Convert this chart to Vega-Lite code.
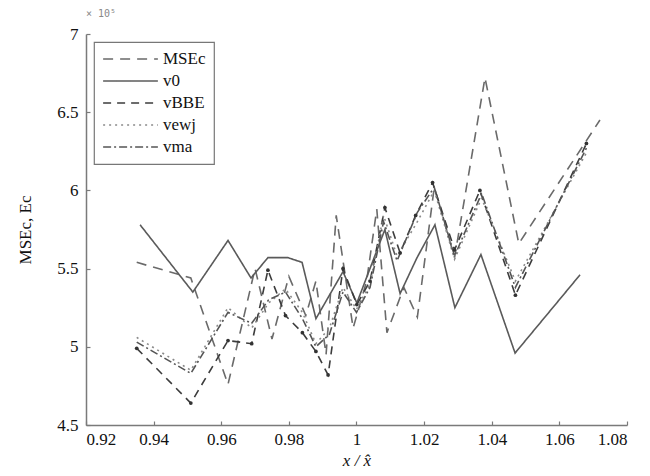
{
  "$schema": "https://vega.github.io/schema/vega-lite/v6.json",
  "width": 541,
  "height": 391,
  "autosize": {"type": "none"},
  "padding": {"left": 86, "top": 34, "right": 23, "bottom": 51},
  "background": "white",
  "title": {"text": "× 10⁵", "anchor": "start", "frame": "group", "font": "DejaVu Sans Mono", "fontSize": 10, "color": "#888888", "fontWeight": "normal", "offset": 6},
  "config": {
    "font": "Liberation Serif",
    "view": {"stroke": null},
    "axis": {"domainColor": "#7a7a7a", "tickColor": "#7a7a7a", "grid": false, "labelFont": "Liberation Serif", "labelFontSize": 17, "labelColor": "#111111", "titleFont": "Liberation Serif", "titleFontSize": 17, "titleFontWeight": "normal", "titleColor": "#111111", "tickSize": -4, "domainWidth": 1.5, "tickWidth": 1.2},
    "legend": {"orient": "top-left", "offset": 8, "strokeColor": "#777777", "strokeWidth": 1.2, "padding": 8, "symbolType": "stroke", "symbolSize": 3000, "symbolStrokeWidth": 1.6, "labelFont": "Liberation Serif", "labelFontSize": 17, "labelColor": "#111111", "rowPadding": 4, "clipHeight": 18, "fillColor": "white"}
  },
  "data": {"values": [
    {"s": "MSEc", "x": 0.935, "y": 5.54}, {"s": "MSEc", "x": 0.951, "y": 5.44}, {"s": "MSEc", "x": 0.962, "y": 4.76}, {"s": "MSEc", "x": 0.970, "y": 5.50}, {"s": "MSEc", "x": 0.975, "y": 5.05}, {"s": "MSEc", "x": 0.980, "y": 5.45}, {"s": "MSEc", "x": 0.985, "y": 5.20}, {"s": "MSEc", "x": 0.988, "y": 5.42}, {"s": "MSEc", "x": 0.991, "y": 4.95}, {"s": "MSEc", "x": 0.994, "y": 5.84}, {"s": "MSEc", "x": 0.999, "y": 5.12}, {"s": "MSEc", "x": 1.003, "y": 5.42}, {"s": "MSEc", "x": 1.006, "y": 5.88}, {"s": "MSEc", "x": 1.009, "y": 5.09}, {"s": "MSEc", "x": 1.014, "y": 5.38}, {"s": "MSEc", "x": 1.018, "y": 5.19}, {"s": "MSEc", "x": 1.023, "y": 6.02}, {"s": "MSEc", "x": 1.029, "y": 5.57}, {"s": "MSEc", "x": 1.038, "y": 6.72}, {"s": "MSEc", "x": 1.048, "y": 5.66}, {"s": "MSEc", "x": 1.072, "y": 6.45},
    {"s": "v0", "x": 0.936, "y": 5.78}, {"s": "v0", "x": 0.9516, "y": 5.35}, {"s": "v0", "x": 0.962, "y": 5.68}, {"s": "v0", "x": 0.9688, "y": 5.44}, {"s": "v0", "x": 0.9738, "y": 5.57}, {"s": "v0", "x": 0.9797, "y": 5.57}, {"s": "v0", "x": 0.9839, "y": 5.54}, {"s": "v0", "x": 0.988, "y": 5.18}, {"s": "v0", "x": 0.996, "y": 5.48}, {"s": "v0", "x": 1.0001, "y": 5.28}, {"s": "v0", "x": 1.0084, "y": 5.75}, {"s": "v0", "x": 1.0129, "y": 5.34}, {"s": "v0", "x": 1.0179, "y": 5.57}, {"s": "v0", "x": 1.0232, "y": 5.78}, {"s": "v0", "x": 1.0291, "y": 5.25}, {"s": "v0", "x": 1.0368, "y": 5.59}, {"s": "v0", "x": 1.0469, "y": 4.96}, {"s": "v0", "x": 1.0661, "y": 5.46},
    {"s": "vBBE", "x": 0.935, "y": 4.99}, {"s": "vBBE", "x": 0.951, "y": 4.64}, {"s": "vBBE", "x": 0.962, "y": 5.04}, {"s": "vBBE", "x": 0.969, "y": 5.02}, {"s": "vBBE", "x": 0.9738, "y": 5.49}, {"s": "vBBE", "x": 0.979, "y": 5.20}, {"s": "vBBE", "x": 0.984, "y": 5.09}, {"s": "vBBE", "x": 0.988, "y": 4.97}, {"s": "vBBE", "x": 0.9916, "y": 4.82}, {"s": "vBBE", "x": 0.996, "y": 5.50}, {"s": "vBBE", "x": 1.0001, "y": 5.27}, {"s": "vBBE", "x": 1.004, "y": 5.42}, {"s": "vBBE", "x": 1.0084, "y": 5.89}, {"s": "vBBE", "x": 1.0129, "y": 5.60}, {"s": "vBBE", "x": 1.0175, "y": 5.84}, {"s": "vBBE", "x": 1.0225, "y": 6.05}, {"s": "vBBE", "x": 1.029, "y": 5.62}, {"s": "vBBE", "x": 1.0365, "y": 6.00}, {"s": "vBBE", "x": 1.047, "y": 5.33}, {"s": "vBBE", "x": 1.068, "y": 6.30},
    {"s": "vewj", "x": 0.935, "y": 5.06}, {"s": "vewj", "x": 0.951, "y": 4.85}, {"s": "vewj", "x": 0.962, "y": 5.25}, {"s": "vewj", "x": 0.969, "y": 5.12}, {"s": "vewj", "x": 0.974, "y": 5.28}, {"s": "vewj", "x": 0.979, "y": 5.37}, {"s": "vewj", "x": 0.984, "y": 5.22}, {"s": "vewj", "x": 0.988, "y": 5.02}, {"s": "vewj", "x": 0.992, "y": 5.12}, {"s": "vewj", "x": 0.996, "y": 5.38}, {"s": "vewj", "x": 1.0, "y": 5.24}, {"s": "vewj", "x": 1.004, "y": 5.40}, {"s": "vewj", "x": 1.008, "y": 5.84}, {"s": "vewj", "x": 1.012, "y": 5.58}, {"s": "vewj", "x": 1.018, "y": 5.80}, {"s": "vewj", "x": 1.023, "y": 6.00}, {"s": "vewj", "x": 1.029, "y": 5.56}, {"s": "vewj", "x": 1.037, "y": 5.95}, {"s": "vewj", "x": 1.047, "y": 5.42}, {"s": "vewj", "x": 1.068, "y": 6.24},
    {"s": "vma", "x": 0.935, "y": 5.03}, {"s": "vma", "x": 0.951, "y": 4.83}, {"s": "vma", "x": 0.962, "y": 5.22}, {"s": "vma", "x": 0.969, "y": 5.15}, {"s": "vma", "x": 0.974, "y": 5.30}, {"s": "vma", "x": 0.979, "y": 5.35}, {"s": "vma", "x": 0.984, "y": 5.18}, {"s": "vma", "x": 0.988, "y": 5.00}, {"s": "vma", "x": 0.992, "y": 5.08}, {"s": "vma", "x": 0.996, "y": 5.35}, {"s": "vma", "x": 1.0, "y": 5.22}, {"s": "vma", "x": 1.004, "y": 5.38}, {"s": "vma", "x": 1.008, "y": 5.80}, {"s": "vma", "x": 1.012, "y": 5.55}, {"s": "vma", "x": 1.018, "y": 5.86}, {"s": "vma", "x": 1.023, "y": 6.02}, {"s": "vma", "x": 1.029, "y": 5.58}, {"s": "vma", "x": 1.037, "y": 5.98}, {"s": "vma", "x": 1.047, "y": 5.38}, {"s": "vma", "x": 1.068, "y": 6.27}
  ]},
  "encoding": {
    "x": {"field": "x", "type": "quantitative", "scale": {"domain": [0.92, 1.08], "nice": false, "zero": false}, "axis": {"values": [0.92, 0.94, 0.96, 0.98, 1, 1.02, 1.04, 1.06, 1.08], "format": "~g", "title": "x / x\u0302", "titleFontStyle": "italic", "labelPadding": 10, "titlePadding": 5}},
    "y": {"field": "y", "type": "quantitative", "scale": {"domain": [4.5, 7], "nice": false, "zero": false}, "axis": {"values": [4.5, 5, 5.5, 6, 6.5, 7], "format": "~g", "title": "MSEc, Ec", "labelPadding": 12, "titlePadding": 22}}
  },
  "layer": [
    {
      "mark": {"type": "line", "strokeWidth": 1.6},
      "encoding": {
        "detail": {"field": "s"},
        "color": {"field": "s", "type": "nominal", "scale": {"domain": ["MSEc", "v0", "vBBE", "vewj", "vma"], "range": ["#6a6a6a", "#5a5a5a", "#3c3c3c", "#8a8a8a", "#555555"]}, "legend": {"title": null}},
        "strokeDash": {"field": "s", "type": "nominal", "scale": {"domain": ["MSEc", "v0", "vBBE", "vewj", "vma"], "range": [[10, 7], [1, 0], [8, 6], [2, 4], [8, 3, 2, 3]]}, "legend": {"title": null}}
      }
    },
    {
      "transform": [{"filter": "datum.s === 'vBBE'"}],
      "mark": {"type": "point", "filled": true, "size": 14, "color": "#333333", "opacity": 1},
      "encoding": {}
    }
  ]
}
